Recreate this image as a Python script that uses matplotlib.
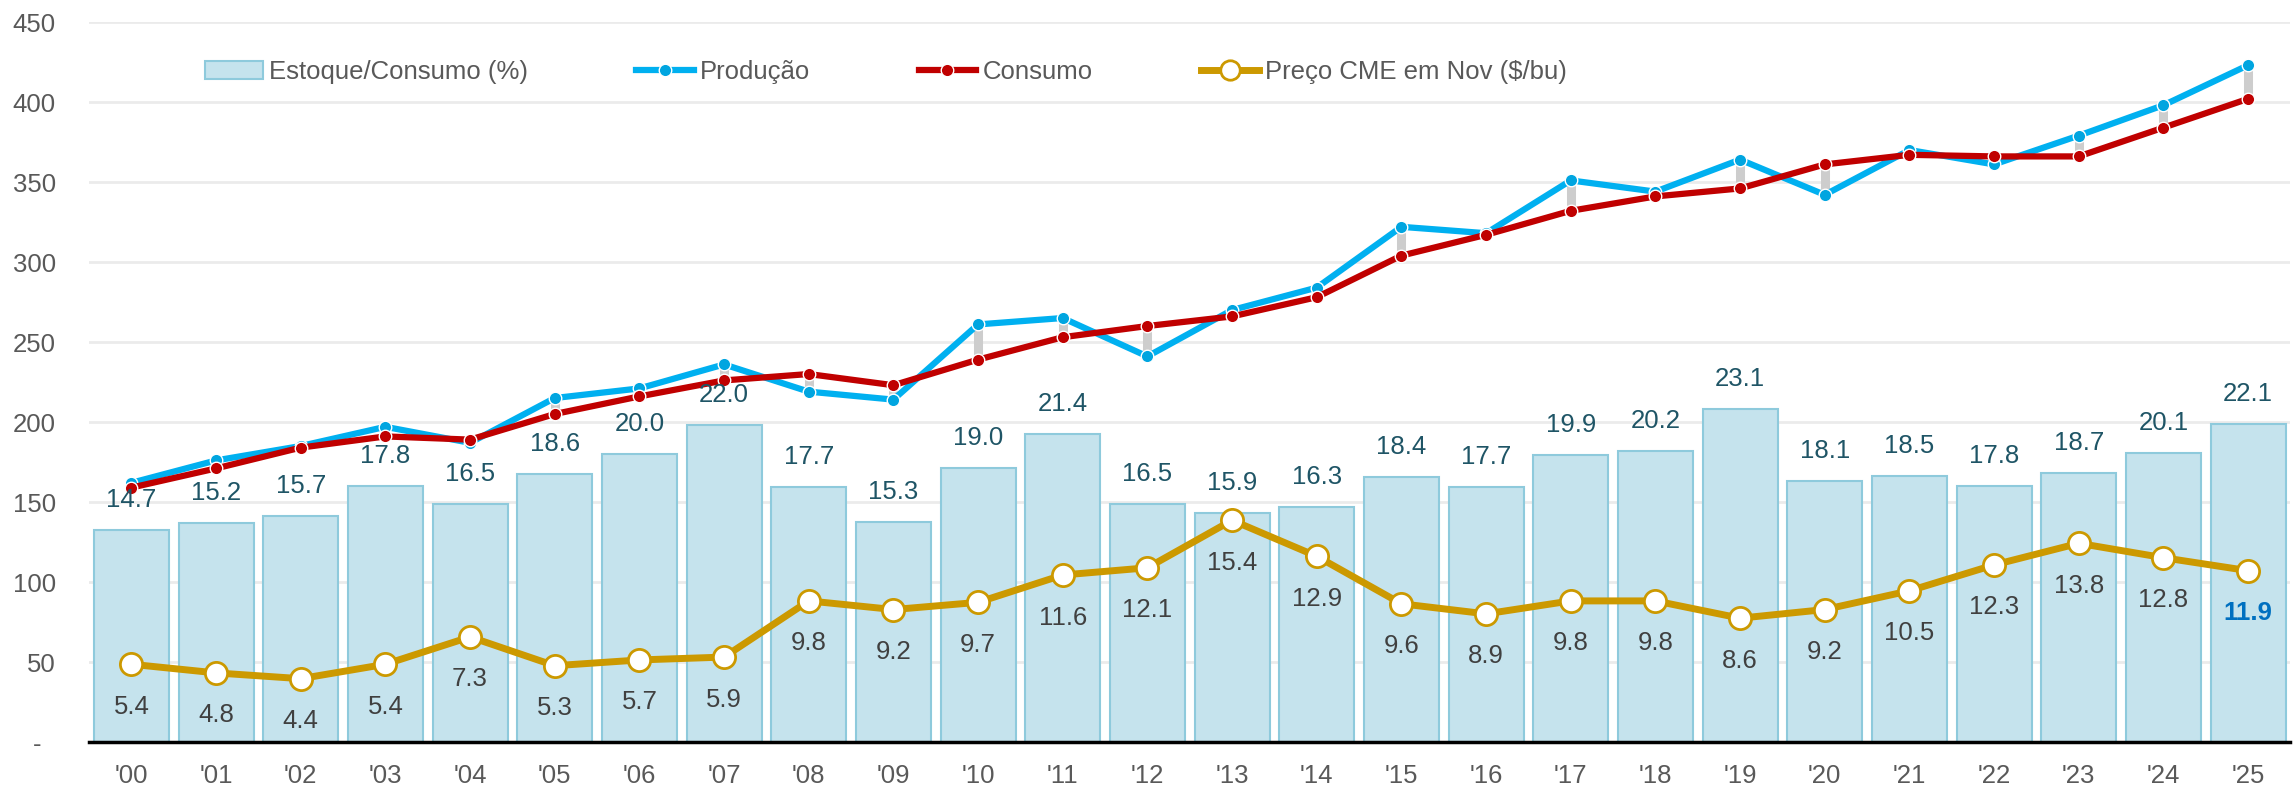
import numpy as np
import matplotlib
matplotlib.use("Agg")
import matplotlib.pyplot as plt
from matplotlib.lines import Line2D
from matplotlib.patches import Patch

plt.rcParams['font.family'] = ['Liberation Sans', 'DejaVu Sans']
FS = 18.5

# data
anos = ["'00", "'01", "'02", "'03", "'04", "'05", "'06", "'07", "'08", "'09",
        "'10", "'11", "'12", "'13", "'14", "'15", "'16", "'17", "'18", "'19",
        "'20", "'21", "'22", "'23", "'24", "'25"]
estoque_consumo = [14.7, 15.2, 15.7, 17.8, 16.5, 18.6, 20.0, 22.0, 17.7, 15.3,
                   19.0, 21.4, 16.5, 15.9, 16.3, 18.4, 17.7, 19.9, 20.2, 23.1,
                   18.1, 18.5, 17.8, 18.7, 20.1, 22.1]
preco_cme = [5.4, 4.8, 4.4, 5.4, 7.3, 5.3, 5.7, 5.9, 9.8, 9.2,
             9.7, 11.6, 12.1, 15.4, 12.9, 9.6, 8.9, 9.8, 9.8, 8.6,
             9.2, 10.5, 12.3, 13.8, 12.8, 11.9]
producao = [162, 176, 185, 197, 187, 215, 221, 236, 219, 214,
            261, 265, 241, 270, 284, 322, 318, 351, 344, 364,
            342, 370, 361, 379, 398, 423]
consumo = [159, 171, 184, 191, 189, 205, 216, 226, 230, 223,
           239, 253, 260, 266, 278, 304, 317, 332, 341, 346,
           361, 367, 366, 366, 384, 402]

# stock/use and price are drawn on the left scale multiplied by 9
ESCALA = 9

x = np.arange(len(anos))
barras = np.array(estoque_consumo) * ESCALA
preco_esc = np.array(preco_cme) * ESCALA

fig = plt.figure(figsize=(22.95, 7.92), dpi=100)
ax = fig.add_axes([0.0388, 0.0631, 0.9592, 0.9091])

# gridlines
ax.set_ylim(0, 450)
ax.set_xlim(-0.5, 25.5)
ax.set_yticks(np.arange(0, 451, 50))
ax.yaxis.grid(True, color='#ebebeb', lw=2, zorder=0)
ax.set_axisbelow(True)

# bars
ax.bar(x, barras, width=0.885, color='#c5e3ed', edgecolor='#8ecadc', lw=1.5, zorder=1)

# high-low connectors between production and consumption
ax.vlines(x, consumo, producao, color='#cdcdcd', lw=6.5, zorder=2)

# price line
ax.plot(x, preco_esc, color='#cc9900', lw=5, marker='o', ms=16,
        mfc='white', mec='#cc9900', mew=2, zorder=3)

# production / consumption
ax.plot(x, producao, color='#00b0f0', lw=4.5, marker='o', ms=9,
        mfc='#00a5e0', mec='white', mew=1, zorder=4)
ax.plot(x, consumo, color='#c00000', lw=4.5, marker='o', ms=9,
        mfc='#c00000', mec='white', mew=1, zorder=5)

# labels
for i in range(len(anos)):
    ax.annotate(f"{estoque_consumo[i]:.1f}", (x[i], barras[i]), xytext=(0, 13),
                textcoords='offset points', ha='center', va='bottom',
                fontsize=FS, color='#1f5566', zorder=6)
    cor = '#0070c0' if i == len(anos) - 1 else '#404040'
    peso = 'bold' if i == len(anos) - 1 else 'normal'
    ax.annotate(f"{preco_cme[i]:.1f}", (x[i], preco_esc[i]), xytext=(0, -22),
                textcoords='offset points', ha='center', va='top',
                fontsize=FS, color=cor, fontweight=peso, zorder=6)

# axes styling
ax.set_xticks(x)
ax.set_xticklabels(anos, fontsize=FS, color='#595959')
ylabels = ["-  "] + [str(v) for v in range(50, 451, 50)]
ax.set_yticklabels(ylabels, fontsize=FS, color='#595959')
ax.tick_params(axis='both', length=0)
ax.tick_params(axis='x', pad=16)
ax.tick_params(axis='y', pad=24)
for lado in ['top', 'right', 'left']:
    ax.spines[lado].set_visible(False)
ax.spines['bottom'].set_color('black')
ax.spines['bottom'].set_linewidth(2.5)
ax.spines['bottom'].set_zorder(7)

# legend
handles = [
    Patch(facecolor='#c5e3ed', edgecolor='#8ecadc', lw=1.5),
    Line2D([], [], color='#00b0f0', lw=4.5, marker='o', ms=9, mfc='#00a5e0', mec='white'),
    Line2D([], [], color='#c00000', lw=4.5, marker='o', ms=9, mfc='#c00000', mec='white'),
    Line2D([], [], color='#cc9900', lw=5, marker='o', ms=14, mfc='white', mec='#cc9900', mew=2),
]
nomes = ['Estoque/Consumo (%)', 'Produção', 'Consumo', 'Preço CME em Nov ($/bu)']
leg = ax.legend(handles, nomes, loc='center', bbox_to_anchor=(0.362, 0.93), ncol=4,
                frameon=False, fontsize=FS, handlelength=2.25, handletextpad=0.25,
                columnspacing=4.2, labelcolor='#595959')

fig.savefig('out.png', dpi=100)
